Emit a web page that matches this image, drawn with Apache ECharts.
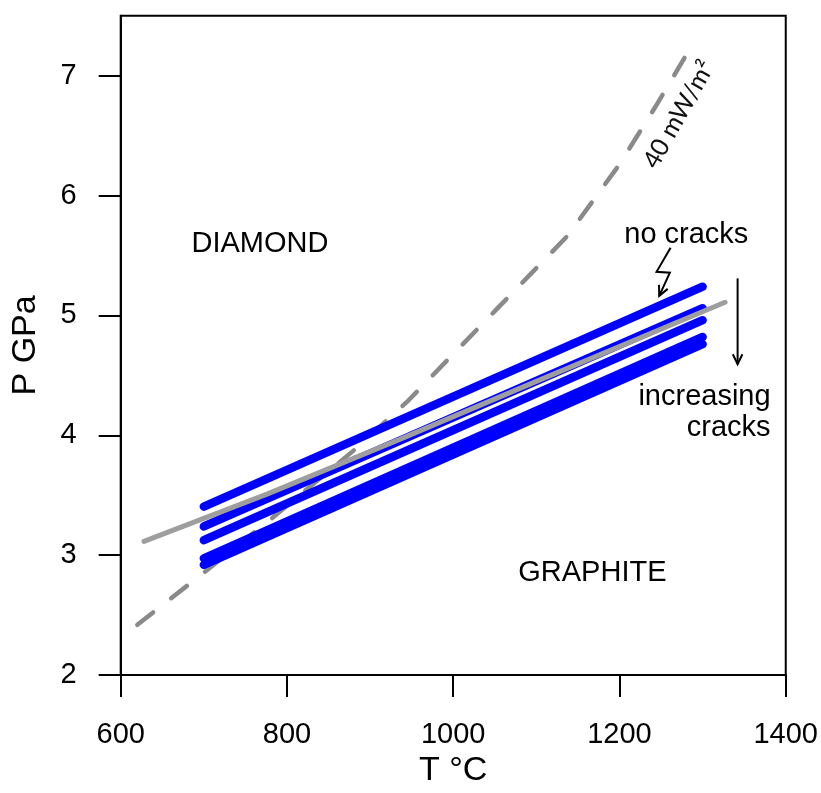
<!DOCTYPE html>
<html>
<head>
<meta charset="utf-8">
<script src="https://cdn.jsdelivr.net/npm/echarts@6/dist/echarts.min.js"></script>
<style>html,body{margin:0;padding:0;background:#fff;width:100%;height:100%;overflow:hidden;}#chart{width:100%;height:100%;}</style>
</head>
<body>
<div id="chart"></div>
<script>
// ---- data ----
const xTicks = [600, 800, 1000, 1200, 1400];
const yTicks = [2, 3, 4, 5, 6, 7];
const crackT = [700, 1300];
const crack1 = [3.405, 5.24];
const crack2 = [3.24, 5.06];
const crack3 = [3.125, 4.96];
const crack4 = [2.974, 4.82];
const crack5 = [2.92, 4.76];
const boundaryT = [628, 776, 937, 1100, 1327];
const boundaryP = [3.116, 3.51, 3.97, 4.45, 5.11];
const geothermT = [620, 704, 784, 884, 946, 1052, 1137, 1200, 1245, 1281];
const geothermP = [2.42, 2.877, 3.32, 3.895, 4.29, 5.05, 5.66, 6.26, 6.76, 7.18];
const xName = 'T °C';
const yName = 'P GPa';

const pair = (xs, ys) => xs.map((x, i) => [x, ys[i]]);
const FONT = '"Liberation Sans", Arial, sans-serif';

const chart = echarts.init(document.getElementById('chart'), null, {renderer: 'canvas'});

function lineSeries(data, color, width, type) {
  return {
    type: 'line', data: data, symbol: 'none', silent: true, animation: false,
    lineStyle: {color: color, width: width, type: type || 'solid', cap: 'round', join: 'round'},
    emphasis: {disabled: true}
  };
}

function arrowHead(tip, prev, len, ang) {
  const dx = prev[0] - tip[0], dy = prev[1] - tip[1];
  const d = Math.hypot(dx, dy);
  const ux = dx / d, uy = dy / d;
  const c = Math.cos(ang), s = Math.sin(ang);
  const a = [tip[0] + len * (ux * c - uy * s), tip[1] + len * (ux * s + uy * c)];
  const b = [tip[0] + len * (ux * c + uy * s), tip[1] + len * (-ux * s + uy * c)];
  return {type: 'polyline', shape: {points: [a, tip, b]}, style: {stroke: '#000', lineWidth: 2, fill: null}};
}

const annotations = {
  type: 'custom', silent: true, animation: false, clip: false, z: 10,
  data: [[0]],
  renderItem: function (params, api) {
    const zig = [[1261.5, 5.564], [1244.6, 5.364], [1260.6, 5.356], [1247.8, 5.163]].map(p => api.coord(p));
    const vert = [[1342.1, 5.309], [1342.1, 4.594]].map(p => api.coord(p));
    const txt = (pos, text, opts) => Object.assign({
      type: 'text', x: pos[0], y: pos[1],
      style: Object.assign({text: text, fill: '#000', font: '29px ' + FONT, align: 'center', verticalAlign: 'middle'}, opts || {})
    });
    const rot = txt(api.coord([1271.5, 6.676]), '40 mW/m²', {font: '25px Lato, "Open Sans", sans-serif', fill: '#111'});
    rot.rotation = 60.5 * Math.PI / 180;
    return {
      type: 'group',
      children: [
        {type: 'polyline', shape: {points: zig}, style: {stroke: '#000', lineWidth: 2, fill: null}},
        arrowHead(zig[3], zig[2], 11, 0.45),
        {type: 'polyline', shape: {points: vert}, style: {stroke: '#000', lineWidth: 2, fill: null}},
        arrowHead(vert[1], vert[0], 11, 0.45),
        txt(api.coord([767.5, 5.597]), 'DIAMOND'),
        txt(api.coord([1167.4, 2.854]), 'GRAPHITE'),
        txt(api.coord([1280.4, 5.669]), 'no cracks'),
        txt(api.coord([1381.8, 4.318]), 'increasing', {align: 'right'}),
        txt(api.coord([1381.8, 4.064]), 'cracks', {align: 'right'}),
        rot
      ]
    };
  }
};

const axisCommon = {
  axisLine: {show: true, onZero: false, lineStyle: {color: '#000', width: 2}},
  axisTick: {show: true, inside: false, length: 22, lineStyle: {color: '#000', width: 2}},
  splitLine: {show: false},
  nameLocation: 'middle',
  nameGap: 78,
  nameTextStyle: {color: '#000', fontSize: 34, fontFamily: FONT}
};
const fmt = v => String(v);

function buildOption() {
  const W = chart.getWidth(), H = chart.getHeight();
  return {
    backgroundColor: '#fff',
    animation: false,
    grid: {left: 120.7, right: Math.max(0, W - 786), top: 15.7, bottom: Math.max(0, H - 682.7), show: true, borderColor: '#000', borderWidth: 2, backgroundColor: 'transparent', containLabel: false},
    xAxis: Object.assign({}, axisCommon, {
      type: 'value', min: 600, max: 1400, interval: 200, name: xName,
      axisTick: Object.assign({}, axisCommon.axisTick, {customValues: xTicks}),
      axisLabel: {customValues: xTicks, formatter: fmt, color: '#000', fontSize: 29, fontFamily: FONT, margin: 45, showMinLabel: true, showMaxLabel: true}
    }),
    yAxis: Object.assign({}, axisCommon, {
      type: 'value', min: 2, max: 7.5, interval: 1, name: yName,
      axisTick: Object.assign({}, axisCommon.axisTick, {customValues: yTicks}),
      axisLabel: {customValues: yTicks, formatter: fmt, color: '#000', fontSize: 29, fontFamily: FONT, margin: 44, showMinLabel: true, showMaxLabel: true}
    }),
    series: [
      lineSeries(pair(geothermT, geothermP), '#8a8a8a', 4.5, [20, 23]),
      lineSeries(pair(crackT, crack1), '#0000ff', 8.5),
      lineSeries(pair(crackT, crack2), '#0000ff', 8.5),
      lineSeries(pair(crackT, crack3), '#0000ff', 8.5),
      lineSeries(pair(crackT, crack4), '#0000ff', 8.5),
      lineSeries(pair(crackT, crack5), '#0000ff', 8.5),
      lineSeries(pair(boundaryT, boundaryP), '#9e9e9e', 5),
      annotations
    ]
  };
}
chart.setOption(buildOption());
window.addEventListener('resize', () => { chart.resize(); chart.setOption(buildOption()); });
</script>
</body>
</html>
